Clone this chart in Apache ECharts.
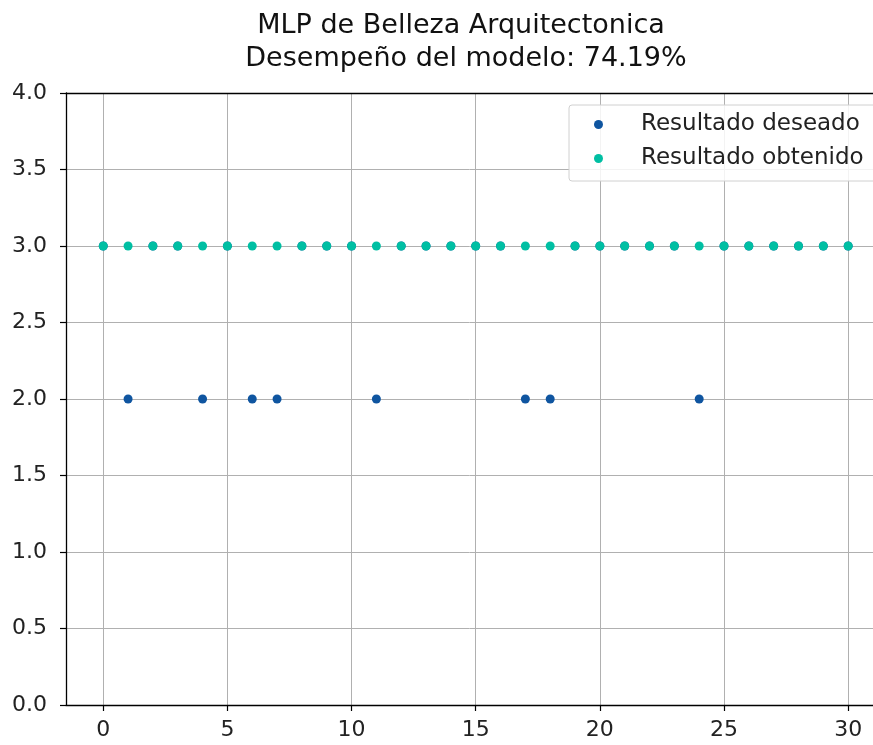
<!DOCTYPE html>
<html>
<head>
<meta charset="utf-8">
<script src="https://cdn.jsdelivr.net/npm/echarts@6/dist/echarts.min.js"></script>
<style>
  html, body { margin: 0; padding: 0; background: #fff; }
  #chart { width: 873px; height: 745px; }
</style>
</head>
<body>
<div id="chart"></div>
<script>
// Sample indices 0..30
const indices = [0,1,2,3,4,5,6,7,8,9,10,11,12,13,14,15,16,17,18,19,20,21,22,23,24,25,26,27,28,29,30];
// Expected class per sample
const deseado = [3,2,3,3,2,3,2,2,3,3,3,2,3,3,3,3,3,2,2,3,3,3,3,3,2,3,3,3,3,3,3];
// Predicted class per sample
const obtenido = [3,3,3,3,3,3,3,3,3,3,3,3,3,3,3,3,3,3,3,3,3,3,3,3,3,3,3,3,3,3,3];
const xTicks = [0,5,10,15,20,25,30];

const titleLine1 = 'MLP de Belleza Arquitectonica';
const titleLine2 = 'Desempeño del modelo: 74.19%';
const font = 'DejaVu Sans';

const titleStyle = { fontFamily: font, fontSize: 27, fontWeight: 'normal', color: '#111' };

const chart = echarts.init(document.getElementById('chart'), null, { renderer: 'canvas' });
chart.setOption({
  animation: false,
  backgroundColor: '#fff',
  title: [
    { text: titleLine1, left: 461, top: 12, textAlign: 'center', padding: 0, textStyle: titleStyle },
    { text: titleLine2, left: 466, top: 45, textAlign: 'center', padding: 0, textStyle: titleStyle }
  ],
  grid: { left: 66, top: 93, right: 0, height: 612, show: false },
  legend: {
    left: 569, top: 105,
    orient: 'vertical',
    padding: [8, 80, 11, 25],
    itemGap: 11,
    itemWidth: 9, itemHeight: 9,
    backgroundColor: 'rgba(255,255,255,0.85)',
    borderColor: '#d0d0d0', borderWidth: 1, borderRadius: 3,
    textStyle: { fontFamily: font, fontSize: 23, color: '#222', lineHeight: 23, padding: [0, 0, 0, 33] },
    data: ['Resultado deseado', 'Resultado obtenido']
  },
  xAxis: [
    {
      type: 'value', min: -1.5, max: 31.0, position: 'bottom',
      axisLine: { show: true, onZero: false, lineStyle: { color: '#000', width: 1.3 } },
      axisTick: { show: true, length: 6, lineStyle: { color: '#000', width: 1.2 }, customValues: xTicks },
      axisLabel: { customValues: xTicks, margin: 14, fontFamily: font, fontSize: 22, color: '#222' },
      splitLine: { show: true, lineStyle: { color: '#b0b0b0', width: 1 }, customValues: xTicks }
    },
    {
      // top frame line
      type: 'value', min: -1.5, max: 31.0, position: 'top',
      axisLine: { show: true, onZero: false, lineStyle: { color: '#000', width: 1.3 } },
      axisTick: { show: false }, axisLabel: { show: false }, splitLine: { show: false }
    }
  ],
  yAxis: {
    type: 'value', min: 0, max: 4, interval: 0.5,
    axisLine: { show: true, onZero: false, lineStyle: { color: '#000', width: 1.3 } },
    axisTick: { show: true, length: 6, lineStyle: { color: '#000', width: 1.2 } },
    axisLabel: { margin: 19, fontFamily: font, fontSize: 22, color: '#222', formatter: v => v.toFixed(1) },
    splitLine: { show: true, lineStyle: { color: '#b0b0b0', width: 1 } }
  },
  series: [
    {
      name: 'Resultado deseado', type: 'scatter', symbol: 'circle', symbolSize: 9,
      itemStyle: { color: '#0f55a0', opacity: 1 },
      data: indices.map((x, i) => [x, deseado[i]]),
      z: 2
    },
    {
      name: 'Resultado obtenido', type: 'scatter', symbol: 'circle', symbolSize: 9,
      itemStyle: { color: '#00bfa3', opacity: 1 },
      data: indices.map((x, i) => [x, obtenido[i]]),
      z: 3
    }
  ]
});
</script>
</body>
</html>
